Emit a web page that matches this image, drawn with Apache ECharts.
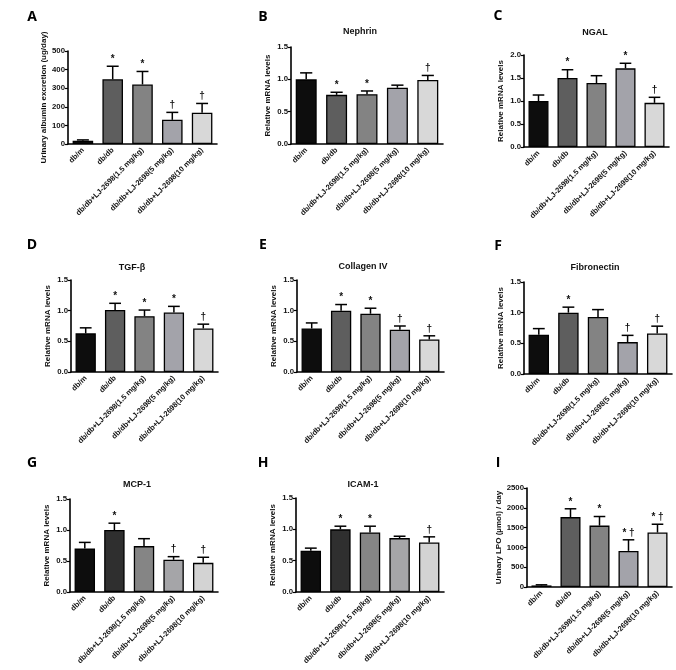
<!DOCTYPE html>
<html><head><meta charset="utf-8">
<script src="https://cdn.jsdelivr.net/npm/echarts@6/dist/echarts.min.js"></script>
<style>html,body{margin:0;padding:0;background:#fff}#c{width:676px;height:670px}</style>
</head><body><div id="c"></div>
<script>
const categories = ['db/m', 'db/db', 'db/db+LJ-2698(1.5 mg/kg)', 'db/db+LJ-2698(5 mg/kg)', 'db/db+LJ-2698(10 mg/kg)'];

const albuminMean = [18, 348, 320, 130, 168];
const albuminSem = [4, 70, 70, 40, 50];
const albuminMark = ['', '*', '*', '†', '†'];

const nephrinMean = [1.00, 0.76, 0.77, 0.87, 0.99];
const nephrinSem = [0.10, 0.04, 0.05, 0.04, 0.07];
const nephrinMark = ['', '*', '*', '', '†'];

const ngalMean = [1.00, 1.50, 1.39, 1.71, 0.96];
const ngalSem = [0.13, 0.18, 0.16, 0.11, 0.12];
const ngalMark = ['', '*', '', '*', '†'];

const tgfMean = [0.63, 1.01, 0.91, 0.97, 0.71];
const tgfSem = [0.09, 0.11, 0.10, 0.10, 0.07];
const tgfMark = ['', '*', '*', '*', '†'];

const collagenMean = [0.71, 1.00, 0.95, 0.69, 0.53];
const collagenSem = [0.09, 0.10, 0.09, 0.06, 0.06];
const collagenMark = ['', '*', '*', '†', '†'];

const fibronectinMean = [0.64, 1.00, 0.93, 0.52, 0.66];
const fibronectinSem = [0.10, 0.09, 0.12, 0.11, 0.12];
const fibronectinMark = ['', '*', '', '†', '†'];

const mcpMean = [0.70, 1.00, 0.74, 0.52, 0.47];
const mcpSem = [0.10, 0.11, 0.12, 0.05, 0.09];
const mcpMark = ['', '*', '', '†', '†'];

const icamMean = [0.66, 1.00, 0.95, 0.86, 0.79];
const icamSem = [0.04, 0.05, 0.10, 0.03, 0.09];
const icamMark = ['', '*', '*', '', '†'];

const lpoMean = [40, 1765, 1550, 912, 1375];
const lpoSem = [15, 210, 230, 280, 210];
const lpoMark = ['', '*', '*', '* †', '* †'];

const yTitles = ['Urinary albumin excretion (ug/day)', 'Relative mRNA levels', 'Urinary LPO (µmol) / day'];
const panelTitles = ['', 'Nephrin', 'NGAL', 'TGF-β', 'Collagen IV', 'Fibronectin', 'MCP-1', 'ICAM-1', ''];
const panelLetters = ['A', 'B', 'C', 'D', 'E', 'F', 'G', 'H', 'I'];

const FONT = 'Liberation Sans, Arial, sans-serif';
const colorsStd = ['#0d0d0d', '#5e5e5e', '#838383', '#a3a3aa', '#d8d8d8'];
const colorsDark = ['#0d0d0d', '#2f2f2f', '#858585', '#a5a5a8', '#d3d3d3'];

const panels = [
  {mean: albuminMean, sem: albuminSem, mark: albuminMark, box: [68, 51, 217, 144], max: 500, step: 100, dec: 0, yt: 0, gap: 17, colors: colorsStd, title: [0, 0], letter: [32, 17]},
  {mean: nephrinMean, sem: nephrinSem, mark: nephrinMark, box: [291, 47, 443, 144], max: 1.5, step: 0.5, dec: 1, yt: 1, gap: 19, colors: colorsStd, title: [360, 32], letter: [263, 17]},
  {mean: ngalMean, sem: ngalSem, mark: ngalMark, box: [524, 55, 669, 147], max: 2.0, step: 0.5, dec: 1, yt: 1, gap: 19, colors: colorsStd, title: [595, 33], letter: [498, 16]},
  {mean: tgfMean, sem: tgfSem, mark: tgfMark, box: [71, 280, 218, 372], max: 1.5, step: 0.5, dec: 1, yt: 1, gap: 19, colors: colorsStd, title: [132, 268], letter: [32, 245]},
  {mean: collagenMean, sem: collagenSem, mark: collagenMark, box: [297, 280, 444, 372], max: 1.5, step: 0.5, dec: 1, yt: 1, gap: 19, colors: colorsStd, title: [363, 267], letter: [263, 245]},
  {mean: fibronectinMean, sem: fibronectinSem, mark: fibronectinMark, box: [524, 282, 672, 374], max: 1.5, step: 0.5, dec: 1, yt: 1, gap: 19, colors: colorsStd, title: [595, 268], letter: [498, 246]},
  {mean: mcpMean, sem: mcpSem, mark: mcpMark, box: [70, 499, 218, 592], max: 1.5, step: 0.5, dec: 1, yt: 1, gap: 19, colors: colorsDark, title: [137, 485], letter: [32, 463]},
  {mean: icamMean, sem: icamSem, mark: icamMark, box: [296, 498, 444, 592], max: 1.5, step: 0.5, dec: 1, yt: 1, gap: 19, colors: colorsDark, title: [363, 485], letter: [263, 463]},
  {mean: lpoMean, sem: lpoSem, mark: lpoMark, box: [527, 488, 672, 587], max: 2500, step: 500, dec: 0, yt: 2, gap: 20, colors: colorsStd, title: [0, 0], letter: [498, 463]}
];

const grid = [], xAxis = [], yAxis = [], series = [], graphic = [];
panels.forEach((p, k) => {
  const [l, t, r, b] = p.box;
  grid.push({left: l, top: t, width: r - l, height: b - t, containLabel: false});
  xAxis.push({
    type: 'category', gridIndex: k, data: categories,
    axisLine: {lineStyle: {color: '#000', width: 1.6}},
    axisTick: {alignWithLabel: true, length: 3, lineStyle: {color: '#000', width: 1.2}},
    axisLabel: {rotate: 45, interval: 0, fontFamily: FONT, fontWeight: 'bold', fontSize: 7.5, color: '#111', margin: 5}
  });
  yAxis.push({
    type: 'value', gridIndex: k, min: 0, max: p.max, interval: p.step,
    name: yTitles[p.yt], nameLocation: 'middle', nameGap: p.gap,
    nameTextStyle: {fontFamily: FONT, fontWeight: 'bold', fontSize: 8, color: '#111'},
    splitLine: {show: false},
    axisLine: {show: true, lineStyle: {color: '#000', width: 1.6}},
    axisTick: {show: true, length: 3, lineStyle: {color: '#000', width: 1.2}},
    axisLabel: {fontFamily: FONT, fontWeight: 'bold', fontSize: 7.8, color: '#111', margin: 3,
      formatter: v => v.toFixed(p.dec)}
  });
  series.push({
    type: 'bar', xAxisIndex: k, yAxisIndex: k, barCategoryGap: '31%', z: 2,
    data: p.mean.map((v, i) => ({value: v, itemStyle: {color: p.colors[i], borderColor: '#000', borderWidth: 1.3}})),
    silent: true, animation: false
  });
  const marks = p.mark;
  series.push({
    type: 'custom', xAxisIndex: k, yAxisIndex: k, z: 3, silent: true, animation: false,
    data: p.mean.map((v, i) => [i, v, p.sem[i]]),
    renderItem: function (params, api) {
      const i = api.value(0), m = api.value(1), e = api.value(2);
      const p0 = api.coord([i, m]);
      const p1 = api.coord([i, m + e]);
      const half = api.size([1, 0])[0] * 0.2;
      const st = {stroke: '#000', lineWidth: 1.5};
      const children = [
        {type: 'line', shape: {x1: p0[0], y1: p0[1], x2: p1[0], y2: p1[1]}, style: st},
        {type: 'line', shape: {x1: p1[0] - half, y1: p1[1], x2: p1[0] + half, y2: p1[1]}, style: st}
      ];
      const mk = marks[params.dataIndex];
      if (mk) {
        children.push({type: 'text', x: p1[0], y: p1[1] - 2,
          style: {text: mk, fill: '#111', font: 'bold 10px ' + FONT, align: 'center', verticalAlign: 'bottom'}});
      }
      return {type: 'group', children: children};
    }
  });
  graphic.push({type: 'text', x: p.letter[0], y: p.letter[1], silent: true,
    style: {text: panelLetters[k], fill: '#000', font: 'bold 14px "Open Sans", Arial, sans-serif', align: 'center', verticalAlign: 'middle'}});
  if (panelTitles[k]) {
    graphic.push({type: 'text', x: p.title[0], y: p.title[1], silent: true,
      style: {text: panelTitles[k], fill: '#111', font: 'bold 9px ' + FONT, align: 'center', verticalAlign: 'middle'}});
  }
});

const chart = echarts.init(document.getElementById('c'), null, {renderer: 'canvas'});
chart.setOption({animation: false, backgroundColor: '#fff', grid, xAxis, yAxis, series, graphic});
</script>
</body></html>
